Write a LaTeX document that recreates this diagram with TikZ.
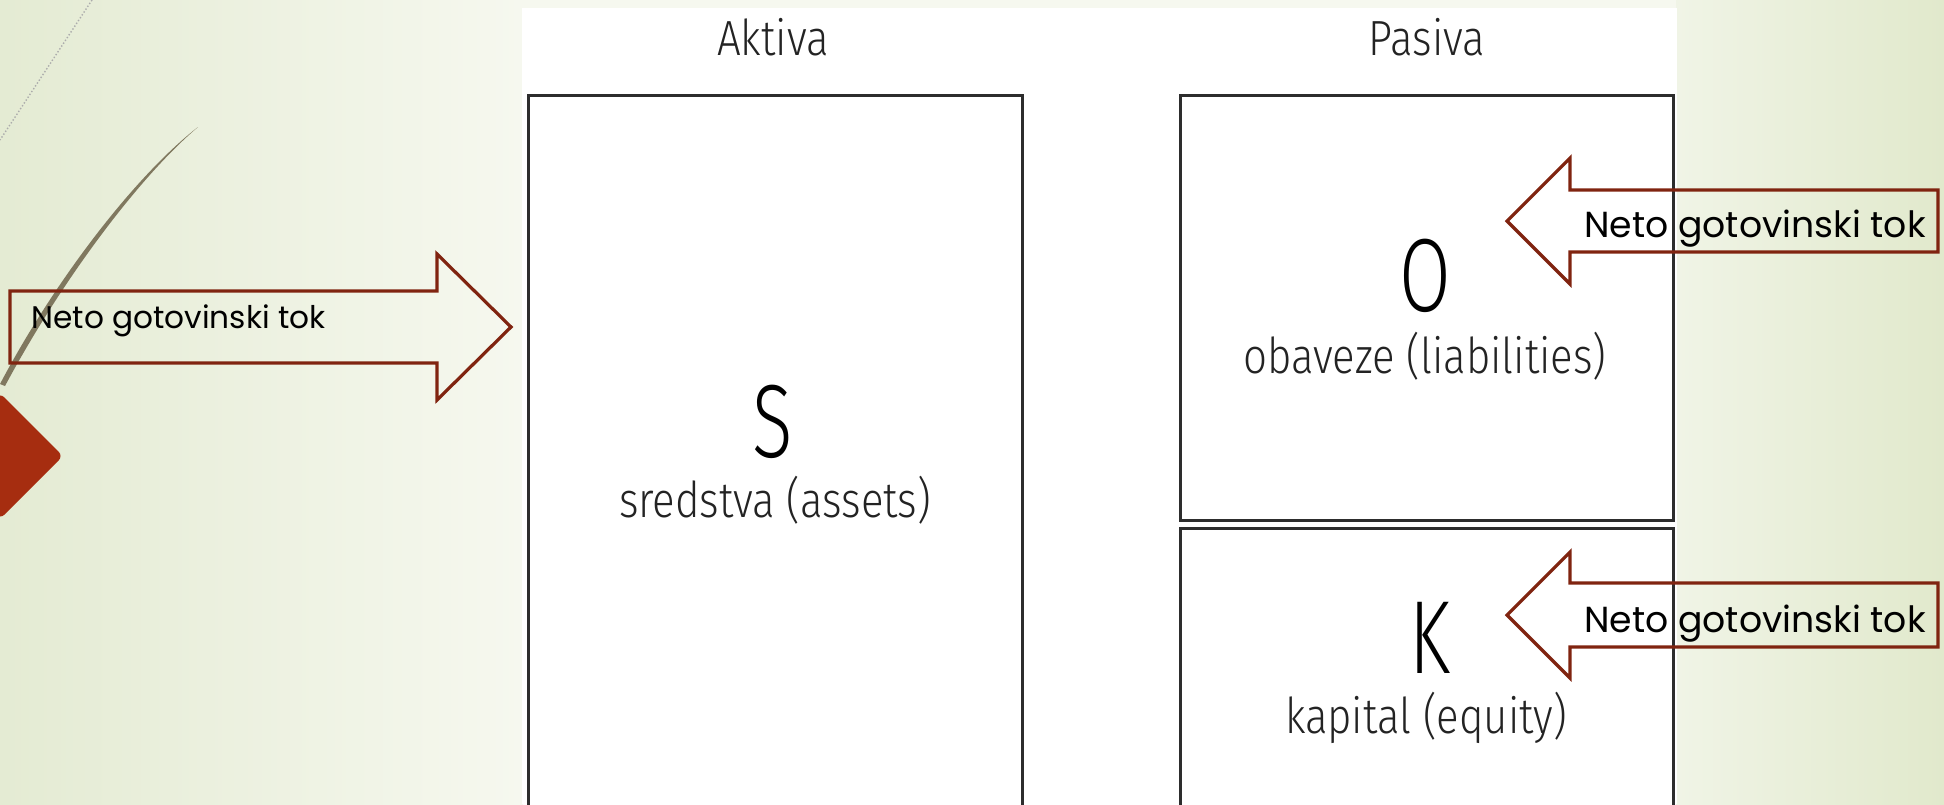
\documentclass[tikz,border=0pt]{standalone}
\usepackage{fontspec}
\newfontfamily\condfont[FakeStretch=0.85]{Fira Sans Light}
\newfontfamily\bigcondfont[FakeStretch=0.72]{Fira Sans Light}
\newfontfamily\gothfont{Poppins}
\definecolor{bgleft}{RGB}{228,235,211}
\definecolor{bgmidL}{RGB}{246,248,239}
\definecolor{bgmidR}{RGB}{240,244,230}
\definecolor{bgright}{RGB}{225,233,204}
\definecolor{arrowred}{RGB}{128,36,16}
\definecolor{diamondred}{RGB}{166,45,16}
\definecolor{curvebrown}{RGB}{128,120,95}
\definecolor{boxgray}{RGB}{45,45,45}
\definecolor{textgray}{RGB}{35,35,35}
\tikzset{
  boxline/.style={draw=boxgray, line width=1.5pt, line join=miter},
  flowarrow/.style={draw=arrowred, line width=1.6pt, line join=miter},
  headlabel/.style={anchor=base, inner sep=0pt, text=textgray, font=\condfont\fontsize{24.7pt}{30pt}\selectfont},
  sublabel/.style={anchor=base, inner sep=0pt, text=textgray, font=\condfont\fontsize{24.7pt}{30pt}\selectfont},
  biglabel/.style={anchor=base, inner sep=0pt, text=black, font=\bigcondfont\fontsize{52pt}{60pt}\selectfont},
  flowtext/.style={anchor=base west, inner sep=0pt, text=black, font=\gothfont\fontsize{15.6pt}{19pt}\selectfont},
  flowtextR/.style={anchor=base west, inner sep=0pt, text=black, font=\gothfont\fontsize{18.1pt}{21pt}\selectfont}
}
\begin{document}
\begin{tikzpicture}[x=0.5pt,y=-0.5pt]
\useasboundingbox (0,0) rectangle (1944,804);
\clip (0,0) rectangle (1944,804);
% background
\shade[left color=bgleft, right color=bgmidL] (0,0) rectangle (523,804);
\shade[left color=bgmidR, right color=bgright] (1676,0) rectangle (1944,804);
\fill[bgmidL] (523,0) rectangle (1676,8);
% decorations
\draw[gray!65, line width=0.7pt, densely dotted] (92,0) -- (0,140);
\fill[curvebrown] (198,127) .. controls (135,176) and (55,280) .. (0,384)
  -- (5,386) .. controls (60,283) and (138,178) .. (198,127) -- cycle;
\fill[diamondred, rounded corners=3pt] (-63,456) -- (0,393) -- (63,456) -- (0,519) -- cycle;
% white picture area
\fill[white] (522,8) rectangle (1677,804);
% boxes
\draw[boxline] (528,830) -- (528,95) -- (1022,95) -- (1022,830);
\draw[boxline] (1180,95) rectangle (1673,520);
\draw[boxline] (1180,830) -- (1180,528) -- (1673,528) -- (1673,830);
% headings
\node[headlabel] (aktiva) at (773,55) {Aktiva};
\node[headlabel] (pasiva) at (1427,55) {Pasiva};
% box contents
\node[biglabel] (S) at (773,457) {S};
\node[sublabel] (sredstva) at (775,517) {sredstva (assets)};
\node[biglabel] (O) at (1425,311) {O};
\node[sublabel] (obaveze) at (1425,373) {obaveze (liabilities)};
\node[biglabel] (K) at (1430,673) {K};
\node[sublabel] (kapital) at (1426,733) {kapital (equity)};
% flow arrows
\draw[flowarrow] (10,291) -- (437,291) -- (437,254) -- (511,327) -- (437,400) -- (437,363) -- (10,363) -- cycle;
\draw[flowarrow] (1938,190) -- (1570,190) -- (1570,158) -- (1507,221) -- (1570,284) -- (1570,252) -- (1938,252) -- cycle;
\draw[flowarrow] (1938,583) -- (1570,583) -- (1570,552) -- (1507,615) -- (1570,678) -- (1570,647) -- (1938,647) -- cycle;
\node[flowtext] (tokL) at (31,328) {Neto gotovinski tok};
\node[flowtextR] (tokO) at (1584,237) {Neto gotovinski tok};
\node[flowtextR] (tokK) at (1584,632) {Neto gotovinski tok};
\end{tikzpicture}
\end{document}
